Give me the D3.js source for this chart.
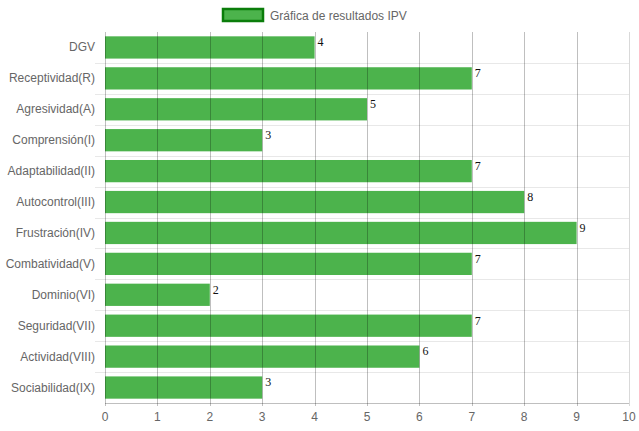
<!DOCTYPE html>
<html>
<head>
<meta charset="utf-8">
<script src="https://cdn.jsdelivr.net/npm/d3@7"></script>
<style>
  html, body { margin: 0; padding: 0; background: #fff; }
  svg { display: block; }
</style>
</head>
<body>
<svg id="chart" width="639" height="431"></svg>
<script>
// IPV results: one bar per scale
const categories = [
  "DGV", "Receptividad(R)", "Agresividad(A)", "Comprensión(I)",
  "Adaptabilidad(II)", "Autocontrol(III)", "Frustración(IV)", "Combatividad(V)",
  "Dominio(VI)", "Seguridad(VII)", "Actividad(VIII)", "Sociabilidad(IX)"
];
const values = [4, 7, 5, 3, 7, 8, 9, 7, 2, 7, 6, 3];
const xTicks = [0, 1, 2, 3, 4, 5, 6, 7, 8, 9, 10];
const seriesName = "Gráfica de resultados IPV";

const W = 639, H = 431;
const margin = { top: 32, right: 10, bottom: 28, left: 105 };
const plotW = W - margin.left - margin.right;
const plotH = H - margin.top - margin.bottom;

const barFill = "#4cb34c";
const legendBorder = "#0a7d0a";
const font = "'Liberation Sans', Arial, Helvetica, sans-serif";

const svg = d3.select("#chart");

const x = d3.scaleLinear().domain([0, 10]).range([margin.left, margin.left + plotW]);
const y = d3.scaleBand().domain(categories).range([margin.top, margin.top + plotH]).padding(0);
const barH = y.bandwidth() * 0.72;
const barOff = (y.bandwidth() - barH) / 2;

// horizontal grid lines between categories (extend past axis as tick marks)
svg.append("g").selectAll("line")
  .data(categories.slice(1))
  .join("line")
  .attr("x1", margin.left - 10)
  .attr("x2", margin.left + plotW)
  .attr("y1", d => Math.round(y(d)) + 0.5)
  .attr("y2", d => Math.round(y(d)) + 0.5)
  .attr("stroke", "rgba(0,0,0,0.09)")
  .attr("stroke-width", 1);

// bars
svg.append("g").selectAll("rect")
  .data(categories)
  .join("rect")
  .attr("x", x(0))
  .attr("y", d => y(d) + barOff)
  .attr("width", (d, i) => x(values[i]) - x(0))
  .attr("height", barH)
  .attr("fill", barFill);

// vertical grid lines drawn over the bars
svg.append("g").selectAll("line")
  .data(xTicks)
  .join("line")
  .attr("x1", d => Math.round(x(d)) + 0.5)
  .attr("x2", d => Math.round(x(d)) + 0.5)
  .attr("y1", margin.top)
  .attr("y2", margin.top + plotH + 3)
  .attr("stroke", d => d === 10 ? "rgba(0,0,0,0.15)" : "rgba(0,0,0,0.25)")
  .attr("stroke-width", 1);

// bottom axis line
svg.append("line")
  .attr("x1", margin.left)
  .attr("x2", margin.left + plotW)
  .attr("y1", Math.round(margin.top + plotH) + 0.5)
  .attr("y2", Math.round(margin.top + plotH) + 0.5)
  .attr("stroke", "rgba(0,0,0,0.25)");

// x tick labels
svg.append("g").selectAll("text")
  .data(xTicks)
  .join("text")
  .attr("x", d => x(d))
  .attr("y", margin.top + plotH + 18)
  .attr("text-anchor", "middle")
  .attr("font-family", font)
  .attr("font-size", 12)
  .attr("fill", "#666")
  .text(d => d);

// category labels
svg.append("g").selectAll("text")
  .data(categories)
  .join("text")
  .attr("x", margin.left - 10)
  .attr("y", d => y(d) + y.bandwidth() / 2 + 4)
  .attr("text-anchor", "end")
  .attr("font-family", font)
  .attr("font-size", 12)
  .attr("fill", "#666")
  .text(d => d);

// value labels at the end of each bar
svg.append("g").selectAll("text")
  .data(categories)
  .join("text")
  .attr("x", (d, i) => x(values[i]) + 3)
  .attr("y", d => y(d) + barOff + 10)
  .attr("font-family", "'Liberation Serif', 'Times New Roman', serif")
  .attr("font-size", 12)
  .attr("fill", "#111")
  .text((d, i) => values[i]);

// legend
const legend = svg.append("g");
legend.append("rect")
  .attr("x", 223)
  .attr("y", 9)
  .attr("width", 40)
  .attr("height", 12)
  .attr("fill", barFill)
  .attr("stroke", legendBorder)
  .attr("stroke-width", 2.5);
legend.append("text")
  .attr("x", 270)
  .attr("y", 19.5)
  .attr("font-family", font)
  .attr("font-size", 12)
  .attr("fill", "#666")
  .text(seriesName);
</script>
</body>
</html>
